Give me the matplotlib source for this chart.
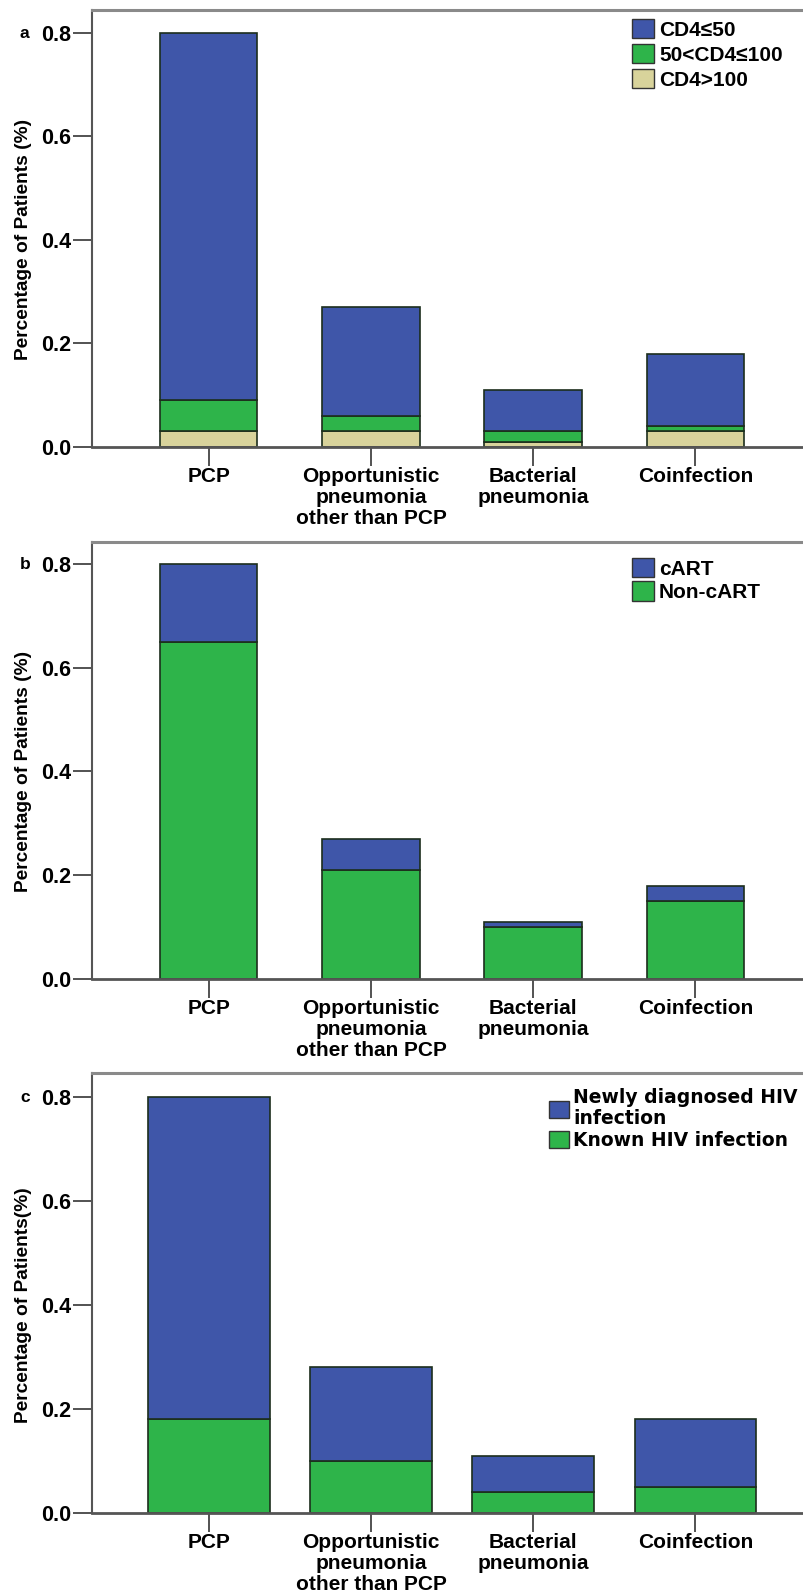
import matplotlib
matplotlib.use("Agg")
import matplotlib.pyplot as plt
from matplotlib.patches import Patch
import numpy as np

categories = ["PCP", "Opportunistic\npneumonia\nother than PCP", "Bacterial\npneumonia", "Coinfection"]

# Panel a (stacked from bottom): CD4>100, 50<CD4<=100, CD4<=50
a_cd4_gt100 = [0.03, 0.03, 0.01, 0.03]
a_cd4_50_100 = [0.06, 0.03, 0.02, 0.01]
a_cd4_le50 = [0.71, 0.21, 0.08, 0.14]

# Panel b: Non-cART (bottom), cART (top)
b_noncart = [0.65, 0.21, 0.10, 0.15]
b_cart = [0.15, 0.06, 0.01, 0.03]

# Panel c: Known HIV (bottom), Newly diagnosed (top)
c_known = [0.18, 0.10, 0.04, 0.05]
c_new = [0.62, 0.18, 0.07, 0.13]

yticks = [0.0, 0.2, 0.4, 0.6, 0.8]
ytick_labels = ["0.0", "0.2", "0.4", "0.6", "0.8"]

BLUE = "#3F56A9"
GREEN = "#2EB44A"
TAN = "#D8D39B"
EDGE = "#1C2E1C"

ARIAL = ["Liberation Sans", "DejaVu Sans"]

W, H = 804, 1594
fig = plt.figure(figsize=(W / 100, H / 100), dpi=100)

def frac_rect(top_px, base_px):
    left = 92 / W
    bottom = 1 - base_px / H
    height = (base_px - top_px) / H
    return [left, bottom, 1.0 - left, height]

def setup(ax, ytop, letter, ylabel, letter_y):
    ax.set_xlim(-0.72, 3.67)
    ax.set_ylim(0, ytop)
    ax.set_yticks(yticks)
    ax.set_yticklabels(ytick_labels, fontfamily=ARIAL, fontweight="bold", fontsize=15.5)
    ax.set_xticks(np.arange(len(categories)))
    ax.set_xticklabels(categories, fontfamily=ARIAL, fontweight="bold", fontsize=15,
                       linespacing=1.12, va="top")
    ax.tick_params(axis="y", direction="out", length=14, width=1.3, color="#444444", pad=1)
    ax.tick_params(axis="x", direction="out", length=14, width=1.3, color="#444444", pad=0.5)
    ax.spines["right"].set_visible(False)
    ax.spines["top"].set_color("#8a8a8a")
    ax.spines["top"].set_linewidth(2.2)
    ax.spines["left"].set_color("#555555")
    ax.spines["left"].set_linewidth(1.5)
    ax.spines["bottom"].set_color("#555555")
    ax.spines["bottom"].set_linewidth(2.0)
    ax.set_ylabel(ylabel, fontfamily=ARIAL, fontweight="bold", fontsize=13.8)
    ax.yaxis.label.set_verticalalignment("center")
    ax.yaxis.set_label_coords((24 - 92) / (W - 92), 0.4 / ytop)
    fig.text(20 / W, 1 - letter_y / H, letter, fontfamily=ARIAL, fontweight="bold",
             fontsize=12.5, ha="left", va="center")

x = np.arange(len(categories))
LEG_KW = dict(loc="upper left", frameon=False, handlelength=1.05, handleheight=1.05,
              handletextpad=0.25, labelspacing=0.2, borderpad=0, borderaxespad=0)

# Panel a
ax1 = fig.add_axes(frac_rect(10, 447))
setup(ax1, 0.8 + 22.5 / 518, "a", "Percentage of Patients (%)", 33)
w1 = 0.6
b0 = np.array(a_cd4_gt100)
b1 = b0 + np.array(a_cd4_50_100)
ax1.bar(x, a_cd4_gt100, width=w1, color=TAN, edgecolor=EDGE, linewidth=1.2)
ax1.bar(x, a_cd4_50_100, width=w1, bottom=b0, color=GREEN, edgecolor=EDGE, linewidth=1.2)
ax1.bar(x, a_cd4_le50, width=w1, bottom=b1, color=BLUE, edgecolor=EDGE, linewidth=1.2)
h1 = [Patch(facecolor=BLUE, edgecolor="#333333"), Patch(facecolor=GREEN, edgecolor="#333333"),
      Patch(facecolor=TAN, edgecolor="#333333")]
fig.legend(h1, ["CD4≤50", "50<CD4≤100", "CD4>100"],
           bbox_to_anchor=(632 / W, 1 - 19 / H),
           prop={"family": ARIAL, "weight": "bold", "size": 15}, **LEG_KW)

# Panel b
ax2 = fig.add_axes(frac_rect(542, 979))
setup(ax2, 0.8 + 22 / 519, "b", "Percentage of Patients (%)", 564)
ax2.bar(x, b_noncart, width=w1, color=GREEN, edgecolor=EDGE, linewidth=1.2)
ax2.bar(x, b_cart, width=w1, bottom=b_noncart, color=BLUE, edgecolor=EDGE, linewidth=1.2)
h2 = [Patch(facecolor=BLUE, edgecolor="#333333"), Patch(facecolor=GREEN, edgecolor="#333333")]
LEG_KW2 = dict(LEG_KW)
LEG_KW2["labelspacing"] = 0.12
fig.legend(h2, ["cART", "Non-cART"],
           bbox_to_anchor=(632 / W, 1 - 558 / H),
           prop={"family": ARIAL, "weight": "bold", "size": 15}, **LEG_KW2)

# Panel c
ax3 = fig.add_axes(frac_rect(1073, 1513))
setup(ax3, 0.8 + 24 / 520, "c", "Percentage of Patients(%)", 1097)
w3 = 0.75
ax3.bar(x, c_known, width=w3, color=GREEN, edgecolor=EDGE, linewidth=1.2)
ax3.bar(x, c_new, width=w3, bottom=c_known, color=BLUE, edgecolor=EDGE, linewidth=1.2)
h3 = [Patch(facecolor=BLUE, edgecolor="#333333"), Patch(facecolor=GREEN, edgecolor="#333333")]
LEG_KW3 = dict(LEG_KW)
LEG_KW3["labelspacing"] = 0.15
fig.legend(h3, ["Newly diagnosed HIV\ninfection", "Known HIV infection"],
           bbox_to_anchor=(549 / W, 1 - 1088 / H),
           prop={"family": "DejaVu Sans", "weight": "bold", "size": 13.5}, **LEG_KW3)
leg = fig.legends[-1]
for t in leg.get_texts():
    t.set_linespacing(1.15)

fig.savefig("out.png", dpi=100, facecolor="white")
